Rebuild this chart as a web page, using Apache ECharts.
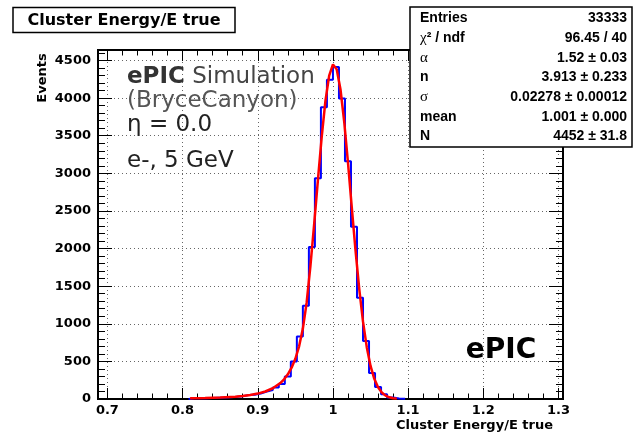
<!DOCTYPE html>
<html><head><meta charset="utf-8">
<script src="https://cdn.jsdelivr.net/npm/echarts@6/dist/echarts.min.js"></script>
<style>html,body{margin:0;padding:0;background:#fff}#c{width:634px;height:436px}</style>
</head><body><div id="c"></div>
<script>
// ---- data ----
const binLow = 0.808;          // low edge of first non-empty bin
const binWidth = 0.008;
const counts = [10,12,11,14,17,19,24,29,38,52,55,74,98,118,152,200,300,497,830,1240,
                2020,2935,3880,4243,4415,3995,3160,2290,1345,770,345,160,62,21,6,2];
const fitX = [0.81,0.83,0.85,0.87,0.88,0.89,0.90,0.91,0.92,0.93,0.935,0.94,0.945,0.95,0.955,0.96,0.965,0.97,0.975,0.98,
              0.985,0.99,0.995,1.0,1.005,1.01,1.015,1.02,1.025,1.03,1.035,1.04,1.045,1.05,1.055,1.06,1.065,1.07,1.075,1.08,1.085];
const fitY = [9,13,19,31,41,54,72,100,143,212,262,328,416,535,701,936,1280,1764,2321,2911,
              3479,3963,4300,4448,4384,4118,3686,3144,2555,1980,1462,1028,689,440,268,156,86,45,23,11,5];
const xTickMin = 0.7, xTickMax = 1.3, xTickStep = 0.1;
const yTickStep = 500, yMinorStep = 100;
const statsLabels = ['Entries', 'χ2', 'α', 'n', 'σ', 'mean', 'N'];
const statsValues = ['33333', '96.45 / 40', '1.52 ± 0.03', '3.913 ± 0.233', '0.02278 ± 0.00012', '1.001 ± 0.000', '4452 ± 31.8'];
const titleText = 'Cluster Energy/E true';
const xTitle = 'Cluster Energy/E true';
const yTitle = 'Events';

// ---- layout ----
const X_MIN = 0.6875, X_MAX = 1.306, Y_MAX = 4640;
const PL = 98, PT = 50, PW = 465, PH = 349;
const g1Left = PL + (xTickMin - X_MIN) / (X_MAX - X_MIN) * PW;
const g1Width = (xTickMax - xTickMin) / (X_MAX - X_MIN) * PW;

const histPts = [[binLow, 0]];
counts.forEach((c, i) => histPts.push([binLow + i * binWidth, c]));
histPts.push([binLow + counts.length * binWidth, 0]);
const fitPts = fitX.map((x, i) => [x, fitY[i]]);

const lbl = {fontFamily: 'DejaVu Sans', fontWeight: 'bold', fontSize: 13, color: '#000',
  formatter: v => String(Math.round(v * 1000) / 1000)};
const dotted = {show: true, lineStyle: {color: '#666', width: 1, type: [1, 3]}};

const chart = echarts.init(document.getElementById('c'), null, {renderer: 'canvas'});

const statsGraphics = [];
const rowY0 = 18.3, rowDy = 19.7;
statsLabels.forEach((s, i) => {
  const y = rowY0 + i * rowDy;
  let t;
  if (s === 'χ2') {
    t = {type: 'text', x: 420, y: y, z: 101, style: {text: '{g|χ}{b|² / ndf}', rich: {
      g: {fontFamily: 'Liberation Serif', fontSize: 15, fontWeight: 'normal', fill: '#000'},
      b: {fontFamily: 'Liberation Sans', fontSize: 14, fontWeight: 'bold', fill: '#000'}},
      align: 'left', verticalAlign: 'middle', textAlign: 'left', textVerticalAlign: 'middle'}};
  } else if (s === 'α' || s === 'σ') {
    t = {type: 'text', x: 420, y: y, z: 101, style: {text: s, font: '15px "Liberation Serif"', fill: '#000',
      align: 'left', verticalAlign: 'middle', textAlign: 'left', textVerticalAlign: 'middle'}};
  } else {
    t = {type: 'text', x: 420, y: y, z: 101, style: {text: s, font: 'bold 14px "Liberation Sans"', fill: '#000',
      align: 'left', verticalAlign: 'middle', textAlign: 'left', textVerticalAlign: 'middle'}};
  }
  statsGraphics.push(t);
  statsGraphics.push({type: 'text', x: 627, y: y, z: 101, style: {text: statsValues[i], font: 'bold 14px "Liberation Sans"', fill: '#000',
    align: 'right', verticalAlign: 'middle', textAlign: 'right', textVerticalAlign: 'middle'}});
});

function txt(x, y, text, font, fill, align, extra) {
  return Object.assign({type: 'text', x: x, y: y, z: 100, style: {text: text, font: font, fill: fill || '#000',
    align: align || 'left', verticalAlign: 'middle', textAlign: align || 'left', textVerticalAlign: 'middle'}}, extra || {});
}

chart.setOption({
  animation: false,
  backgroundColor: '#fff',
  grid: [
    {left: PL, top: PT, width: PW, height: PH, show: true, borderColor: '#000', borderWidth: 2, backgroundColor: 'transparent'},
    {left: g1Left, top: PT, width: g1Width, height: PH, show: false}
  ],
  xAxis: [
    {gridIndex: 0, type: 'value', min: X_MIN, max: X_MAX, show: false},
    {gridIndex: 1, type: 'value', min: xTickMin, max: xTickMax, interval: xTickStep, position: 'bottom',
      axisLine: {show: false},
      axisTick: {show: true, inside: true, length: 11, lineStyle: {color: '#000', width: 1}},
      minorTick: {show: true, splitNumber: 5, length: 5.5, lineStyle: {color: '#000', width: 1}},
      axisLabel: Object.assign({margin: 5, showMinLabel: true, showMaxLabel: true}, lbl),
      splitLine: dotted},
    {gridIndex: 1, type: 'value', min: xTickMin, max: xTickMax, interval: xTickStep, position: 'top',
      axisLine: {show: false},
      axisTick: {show: true, inside: true, length: 11, lineStyle: {color: '#000', width: 1}},
      minorTick: {show: true, splitNumber: 5, length: 5.5, lineStyle: {color: '#000', width: 1}},
      axisLabel: {show: false}, splitLine: {show: false}}
  ],
  yAxis: [
    {gridIndex: 0, type: 'value', min: 0, max: Y_MAX, interval: yTickStep, position: 'left',
      axisLine: {show: false},
      axisTick: {show: true, inside: true, length: 14, lineStyle: {color: '#000', width: 1}},
      axisLabel: Object.assign({margin: 7, showMaxLabel: false}, lbl),
      splitLine: Object.assign({showMinLine: false, showMaxLine: false}, dotted)},
    {gridIndex: 0, type: 'value', min: 0, max: Y_MAX, interval: yMinorStep, position: 'left',
      axisLine: {show: false}, axisLabel: {show: false}, splitLine: {show: false},
      axisTick: {show: true, inside: true, length: 7, lineStyle: {color: '#000', width: 1}}},
    {gridIndex: 0, type: 'value', min: 0, max: Y_MAX, interval: yTickStep, position: 'right',
      axisLine: {show: false}, axisLabel: {show: false}, splitLine: {show: false},
      axisTick: {show: true, inside: true, length: 14, lineStyle: {color: '#000', width: 1}}},
    {gridIndex: 0, type: 'value', min: 0, max: Y_MAX, interval: yMinorStep, position: 'right',
      axisLine: {show: false}, axisLabel: {show: false}, splitLine: {show: false},
      axisTick: {show: true, inside: true, length: 7, lineStyle: {color: '#000', width: 1}}},
    {gridIndex: 1, type: 'value', min: 0, max: Y_MAX, show: false}
  ],
  series: [
    {type: 'line', name: 'hist', xAxisIndex: 0, yAxisIndex: 0, data: histPts, step: 'end',
      showSymbol: false, symbol: 'none', lineStyle: {color: '#0000ff', width: 2}, z: 3, silent: true},
    {type: 'line', name: 'fit', xAxisIndex: 0, yAxisIndex: 0, data: fitPts, smooth: false,
      showSymbol: false, symbol: 'none', lineStyle: {color: '#ff0000', width: 2.5}, z: 4, silent: true}
  ],
  graphic: [
    // title box
    {type: 'rect', z: 100, shape: {x: 13, y: 7.5, width: 222, height: 25}, style: {fill: '#fff', stroke: '#000', lineWidth: 1.5}},
    txt(124, 20.5, titleText, 'bold 16px "DejaVu Sans"', '#000', 'center'),
    // stats box
    {type: 'rect', z: 100, shape: {x: 410, y: 7, width: 222, height: 140}, style: {fill: '#fff', stroke: '#000', lineWidth: 1.5}},
    ...statsGraphics,
    // axis titles
    txt(43, 78, yTitle, 'bold 13px "DejaVu Sans"', '#000', 'center', {rotation: Math.PI / 2}),
    txt(553, 426, xTitle, 'bold 13px "DejaVu Sans"', '#000', 'right'),
    // annotations
    {type: 'text', x: 127, y: 77, z: 100, style: {text: '{b|ePIC}{r| Simulation}', rich: {
      b: {fontFamily: 'DejaVu Sans', fontWeight: 'bold', fontSize: 23, fill: '#333'},
      r: {fontFamily: 'DejaVu Sans', fontWeight: 'normal', fontSize: 23, fill: '#444'}},
      align: 'left', verticalAlign: 'middle', textAlign: 'left', textVerticalAlign: 'middle'}},
    txt(127, 101, '(BryceCanyon)', '23px "DejaVu Sans"', '#555'),
    txt(127, 125, 'η = 0.0', '23px "DejaVu Sans"', '#222'),
    txt(127, 161, 'e-, 5 GeV', '23px "DejaVu Sans"', '#222'),
    txt(501, 351, 'ePIC', 'bold 28px "DejaVu Sans"', '#000', 'center')
  ]
});
</script></body></html>
